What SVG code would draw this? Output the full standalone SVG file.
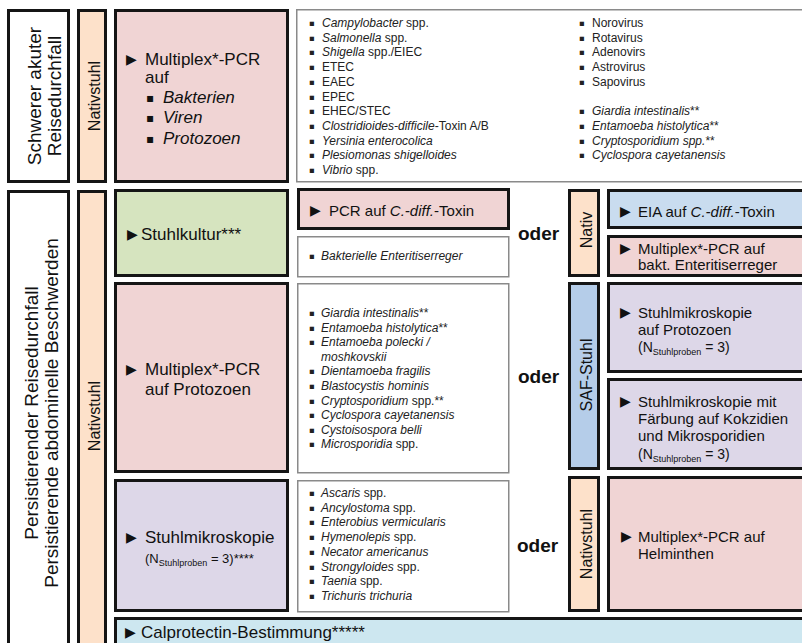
<svg xmlns="http://www.w3.org/2000/svg" width="802" height="643" viewBox="0 0 802 643">
<style>
text{font-family:"Liberation Sans",Arial,sans-serif;fill:#111}
.b{stroke:#151515;stroke-width:3}
.g{stroke:#8a8a8a;stroke-width:1.5;fill:#fff}
.w{fill:#fff}
.pk{fill:#f0d4d4}
.gr{fill:#d6e4bf}
.pu{fill:#ddd7e8}
.bl{fill:#c9dcef}
.saf{fill:#b5cde9}
.or{fill:#fde1ca}
.cy{fill:#cde7f0}
.lab{font-size:19px}
.vs{font-size:16px}
.m{font-size:17px}
.r{font-size:15px}
.ar{font-family:"DejaVu Sans",sans-serif;font-size:14px}
.sq{font-family:"DejaVu Sans",sans-serif;font-size:12px}
.li{font-size:12px;fill:#222}
.li tspan.i{font-style:italic}
.bu text,text.bu{font-family:"DejaVu Sans",sans-serif;font-size:8.5px;fill:#222}
.od{font-size:19px;font-weight:bold}
.sb{font-size:9px}
</style>
<rect width="802" height="643" fill="#fff"/>
<g id="connectors"/>

<g id="label-akut">
<rect class="b w" x="8.5" y="10.5" width="60" height="171"/>
<text class="lab" transform="translate(0,96) rotate(-90)" text-anchor="middle"><tspan x="0" y="41">Schwerer akuter</tspan><tspan x="0" y="61">Reisedurchfall</tspan></text>
</g>
<g id="nativ-akut">
<rect class="b or" x="78.5" y="10.5" width="27" height="171"/>
<text class="vs" transform="translate(100,96) rotate(-90)" text-anchor="middle">Nativstuhl</text>
</g>
<g id="multiplex-akut">
<rect class="b pk" x="115.5" y="10.5" width="172" height="171"/>
<text class="ar" x="126" y="64">▶</text>
<text class="m" x="145" y="65">Multiplex*-PCR</text>
<text class="m" x="145" y="83">auf</text>
<text class="sq" x="146" y="102">▪</text>
<text class="m" x="163" y="103" font-style="italic">Bakterien</text>
<text class="sq" x="146" y="122">▪</text>
<text class="m" x="163" y="123" font-style="italic">Viren</text>
<text class="sq" x="146" y="143">▪</text>
<text class="m" x="163" y="144" font-style="italic">Protozoen</text>
</g>
<g id="liste-akut">
<rect class="g" x="296.75" y="9.75" width="515" height="172"/>
<g class="bu">
<text x="309" y="26">▪</text><text x="309" y="40.7">▪</text><text x="309" y="55.4">▪</text><text x="309" y="70.1">▪</text><text x="309" y="84.8">▪</text><text x="309" y="99.5">▪</text><text x="309" y="114.2">▪</text><text x="309" y="128.9">▪</text><text x="309" y="143.6">▪</text><text x="309" y="158.3">▪</text><text x="309" y="173">▪</text>
<text x="579" y="26">▪</text><text x="579" y="40.7">▪</text><text x="579" y="55.4">▪</text><text x="579" y="70.1">▪</text><text x="579" y="84.8">▪</text><text x="579" y="114.2">▪</text><text x="579" y="128.9">▪</text><text x="579" y="143.6">▪</text><text x="579" y="158.3">▪</text>
</g>
<text class="li" x="322" y="27"><tspan class="i">Campylobacter</tspan> spp.</text>
<text class="li" x="322" y="41.7"><tspan class="i">Salmonella</tspan> spp.</text>
<text class="li" x="322" y="56.4"><tspan class="i">Shigella</tspan> spp./EIEC</text>
<text class="li" x="322" y="71.1">ETEC</text>
<text class="li" x="322" y="85.8">EAEC</text>
<text class="li" x="322" y="100.5">EPEC</text>
<text class="li" x="322" y="115.2">EHEC/STEC</text>
<text class="li" x="322" y="129.9"><tspan class="i">Clostridioides-difficile</tspan>-Toxin A/B</text>
<text class="li" x="322" y="144.6"><tspan class="i">Yersinia enterocolica</tspan></text>
<text class="li" x="322" y="159.3"><tspan class="i">Plesiomonas shigelloides</tspan></text>
<text class="li" x="322" y="174"><tspan class="i">Vibrio</tspan> spp.</text>
<text class="li" x="592" y="27">Norovirus</text>
<text class="li" x="592" y="41.7">Rotavirus</text>
<text class="li" x="592" y="56.4">Adenovirs</text>
<text class="li" x="592" y="71.1">Astrovirus</text>
<text class="li" x="592" y="85.8">Sapovirus</text>
<text class="li" x="592" y="115.2"><tspan class="i">Giardia intestinalis</tspan>**</text>
<text class="li" x="592" y="129.9"><tspan class="i">Entamoeba histolytica</tspan>**</text>
<text class="li" x="592" y="144.6"><tspan class="i">Cryptosporidium spp.</tspan>**</text>
<text class="li" x="592" y="159.3"><tspan class="i">Cyclospora cayetanensis</tspan></text>
</g>

<g id="label-persist">
<rect class="b w" x="8.5" y="191.5" width="60" height="460"/>
<text class="lab" transform="translate(0,413) rotate(-90)" text-anchor="middle"><tspan x="0" y="38">Persistierender Reisedurchfall</tspan><tspan x="0" y="58">Persistierende abdominelle Beschwerden</tspan></text>
</g>
<g id="nativ-persist">
<rect class="b or" x="78.5" y="191.5" width="27" height="460"/>
<text class="vs" transform="translate(100,416) rotate(-90)" text-anchor="middle">Nativstuhl</text>
</g>
<g id="stuhlkultur">
<rect class="b gr" x="115.5" y="190.5" width="172" height="85"/>
<text class="ar" x="127" y="239">▶</text>
<text class="m" x="141" y="240">Stuhlkultur***</text>
</g>
<g id="multiplex-protozoen">
<rect class="b pk" x="115.5" y="283.5" width="172" height="188"/>
<text class="ar" x="126" y="374">▶</text>
<text class="m" x="145" y="375">Multiplex*-PCR</text>
<text class="m" x="145" y="395">auf Protozoen</text>
</g>
<g id="stuhlmikroskopie">
<rect class="b pu" x="115.5" y="480.5" width="172" height="130"/>
<text class="ar" x="126" y="542">▶</text>
<text class="m" x="145" y="543">Stuhlmikroskopie</text>
<text x="145" y="563" font-size="13">(N<tspan class="sb" dy="3">Stuhlproben</tspan><tspan dy="-3"> = 3)****</tspan></text>
</g>
<g id="calprotectin">
<rect class="b cy" x="115.5" y="618.5" width="700" height="40"/>
<text class="ar" x="125" y="637" font-size="12">▶</text>
<text class="m" x="141" y="638">Calprotectin-Bestimmung*****</text>
</g>

<g id="pcr-cdiff">
<rect class="b pk" x="298.5" y="189.5" width="210" height="39"/>
<text class="ar" x="310" y="215">▶</text>
<text class="r" x="329" y="216">PCR auf <tspan font-style="italic">C.-diff.</tspan>-Toxin</text>
</g>
<g id="liste-bakt">
<rect class="g" x="297.75" y="236.75" width="211" height="40"/>
<text class="bu" x="309" y="259">▪</text>
<text class="li" x="321" y="260" font-style="italic">Bakterielle Enteritiserreger</text>
</g>
<g id="liste-protozoen">
<rect class="g" x="297.75" y="283.75" width="211" height="189"/>
<g class="bu">
<text x="309" y="316">▪</text><text x="309" y="330.6">▪</text><text x="309" y="345.2">▪</text><text x="309" y="374.4">▪</text><text x="309" y="389">▪</text><text x="309" y="403.6">▪</text><text x="309" y="418.2">▪</text><text x="309" y="432.8">▪</text><text x="309" y="447.4">▪</text>
</g>
<text class="li" x="321" y="317"><tspan class="i">Giardia intestinalis</tspan>**</text>
<text class="li" x="321" y="331.6"><tspan class="i">Entamoeba histolytica</tspan>**</text>
<text class="li" x="321" y="346.2"><tspan class="i">Entamoeba polecki /</tspan></text>
<text class="li" x="321" y="360.8"><tspan class="i">moshkovskii</tspan></text>
<text class="li" x="321" y="375.4"><tspan class="i">Dientamoeba fragilis</tspan></text>
<text class="li" x="321" y="390"><tspan class="i">Blastocystis hominis</tspan></text>
<text class="li" x="321" y="404.6"><tspan class="i">Cryptosporidium</tspan> spp.**</text>
<text class="li" x="321" y="419.2"><tspan class="i">Cyclospora cayetanensis</tspan></text>
<text class="li" x="321" y="433.8"><tspan class="i">Cystoisospora belli</tspan></text>
<text class="li" x="321" y="448.4"><tspan class="i">Microsporidia</tspan> spp.</text>
</g>
<g id="liste-helminthen">
<rect class="g" x="297.75" y="480.75" width="211" height="131"/>
<g class="bu">
<text x="309" y="496">▪</text><text x="309" y="510.7">▪</text><text x="309" y="525.4">▪</text><text x="309" y="540.1">▪</text><text x="309" y="554.8">▪</text><text x="309" y="569.5">▪</text><text x="309" y="584.2">▪</text><text x="309" y="598.9">▪</text>
</g>
<text class="li" x="321" y="497"><tspan class="i">Ascaris</tspan> spp.</text>
<text class="li" x="321" y="511.7"><tspan class="i">Ancylostoma</tspan> spp.</text>
<text class="li" x="321" y="526.4"><tspan class="i">Enterobius vermicularis</tspan></text>
<text class="li" x="321" y="541.1"><tspan class="i">Hymenolepis</tspan> spp.</text>
<text class="li" x="321" y="555.8"><tspan class="i">Necator americanus</tspan></text>
<text class="li" x="321" y="570.5"><tspan class="i">Strongyloides</tspan> spp.</text>
<text class="li" x="321" y="585.2"><tspan class="i">Taenia</tspan> spp.</text>
<text class="li" x="321" y="599.9"><tspan class="i">Trichuris trichuria</tspan></text>
</g>

<g id="oder-1"><text class="od" x="518" y="240">oder</text></g>
<g id="oder-2"><text class="od" x="518" y="383">oder</text></g>
<g id="oder-3"><text class="od" x="517" y="552">oder</text></g>

<g id="nativ-label">
<rect class="b or" x="569.5" y="190.5" width="29" height="85"/>
<text class="vs" transform="translate(592,230) rotate(-90)" text-anchor="middle" font-size="17">Nativ</text>
</g>
<g id="eia">
<rect class="b bl" x="608.5" y="190.5" width="200" height="37"/>
<text class="ar" x="620" y="216">▶</text>
<text class="r" x="638" y="217">EIA auf <tspan font-style="italic">C.-diff.</tspan>-Toxin</text>
</g>
<g id="multiplex-bakt">
<rect class="b pk" x="608.5" y="236.5" width="200" height="39"/>
<text class="ar" x="620" y="253">▶</text>
<text class="r" x="638" y="254">Multiplex*-PCR auf</text>
<text class="r" x="638" y="270">bakt. Enteritiserreger</text>
</g>
<g id="saf-label">
<rect class="b saf" x="569.5" y="283.5" width="29" height="185"/>
<text class="vs" transform="translate(592,375) rotate(-90)" text-anchor="middle">SAF-Stuhl</text>
</g>
<g id="mikro-protozoen">
<rect class="b pu" x="608.5" y="283.5" width="200" height="88"/>
<text class="ar" x="620" y="317">▶</text>
<text class="r" x="638" y="318">Stuhlmikroskopie</text>
<text class="r" x="638" y="335">auf Protozoen</text>
<text x="638" y="352" font-size="14">(N<tspan class="sb" dy="3">Stuhlproben</tspan><tspan dy="-3"> = 3)</tspan></text>
</g>
<g id="mikro-faerbung">
<rect class="b pu" x="608.5" y="379.5" width="200" height="89"/>
<text class="ar" x="620" y="406">▶</text>
<text class="r" x="638" y="407">Stuhlmikroskopie mit</text>
<text class="r" x="638" y="424">Färbung auf Kokzidien</text>
<text class="r" x="638" y="441">und Mikrosporidien</text>
<text x="638" y="459" font-size="14">(N<tspan class="sb" dy="3">Stuhlproben</tspan><tspan dy="-3"> = 3)</tspan></text>
</g>
<g id="nativstuhl-label">
<rect class="b or" x="569.5" y="477.5" width="29" height="133"/>
<text class="vs" transform="translate(592,544) rotate(-90)" text-anchor="middle">Nativstuhl</text>
</g>
<g id="multiplex-helminthen">
<rect class="b pk" x="608.5" y="477.5" width="200" height="133"/>
<text class="ar" x="621" y="541">▶</text>
<text class="r" x="638" y="542">Multiplex*-PCR auf</text>
<text class="r" x="638" y="559">Helminthen</text>
</g>
</svg>
